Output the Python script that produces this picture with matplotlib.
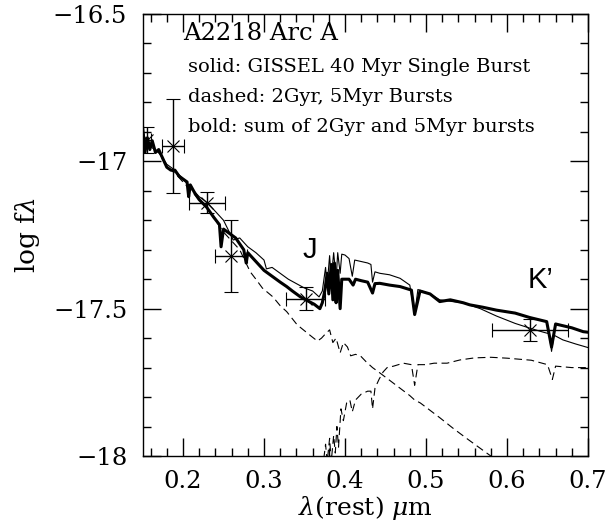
import matplotlib
matplotlib.use("Agg")
import matplotlib.pyplot as plt
from matplotlib.ticker import MultipleLocator

plt.rcParams['font.family'] = ['DejaVu Serif']
plt.rcParams['mathtext.fontset'] = 'dejavuserif'

# ---- data ----
# bold: sum of 2Gyr and 5Myr bursts
sum_wl = [0.150, 0.153, 0.156, 0.159, 0.162, 0.166, 0.170, 0.175, 0.180, 0.185,
          0.190, 0.195, 0.200, 0.205, 0.207, 0.209, 0.215, 0.220, 0.229, 0.238,
          0.245, 0.247, 0.250, 0.260, 0.265, 0.270, 0.275, 0.278, 0.280, 0.290,
          0.300, 0.310, 0.320, 0.328, 0.335, 0.345, 0.355, 0.362, 0.369, 0.372,
          0.375, 0.378, 0.380, 0.383, 0.385, 0.387, 0.389, 0.391, 0.394, 0.396,
          0.400, 0.405, 0.410, 0.413, 0.420, 0.428, 0.434, 0.437, 0.443, 0.455,
          0.468, 0.482, 0.486, 0.4926, 0.505, 0.517, 0.530, 0.546, 0.554, 0.570,
          0.587, 0.610, 0.628, 0.649, 0.655, 0.660, 0.680, 0.694, 0.700]
sum_flux = [-16.88, -16.97, -16.92, -16.96, -16.93, -16.97, -16.96, -16.99, -17.02, -17.03,
            -17.03, -17.05, -17.06, -17.07, -17.12, -17.08, -17.11, -17.13, -17.155, -17.19,
            -17.215, -17.29, -17.23, -17.25, -17.26, -17.28, -17.30, -17.345, -17.31, -17.34,
            -17.37, -17.39, -17.41, -17.425, -17.44, -17.46, -17.475, -17.485, -17.50, -17.48,
            -17.44, -17.38, -17.45, -17.35, -17.47, -17.345, -17.48, -17.37, -17.50, -17.40,
            -17.40, -17.40, -17.42, -17.40, -17.405, -17.41, -17.447, -17.415, -17.414, -17.42,
            -17.425, -17.437, -17.52, -17.44, -17.45, -17.476, -17.47, -17.48, -17.487, -17.495,
            -17.505, -17.515, -17.53, -17.544, -17.63, -17.552, -17.565, -17.578, -17.58]

# solid: GISSEL 40 Myr single burst
gis_wl = [0.150, 0.155, 0.160, 0.170, 0.180, 0.190, 0.200, 0.210, 0.220, 0.230,
          0.240, 0.250, 0.262, 0.270, 0.280, 0.290, 0.300, 0.303, 0.310, 0.320,
          0.330, 0.340, 0.350, 0.360, 0.368, 0.372, 0.376, 0.378, 0.381, 0.383,
          0.386, 0.389, 0.391, 0.394, 0.396, 0.400, 0.405, 0.409, 0.412, 0.420,
          0.428, 0.432, 0.434, 0.437, 0.443, 0.455, 0.468, 0.480, 0.486, 0.490,
          0.505, 0.517, 0.530, 0.545, 0.567, 0.587, 0.610, 0.628, 0.645, 0.652,
          0.655, 0.658, 0.669, 0.685, 0.700]
gis_flux = [-16.90, -16.93, -16.95, -16.97, -17.01, -17.03, -17.06, -17.09, -17.12, -17.14,
            -17.17, -17.20, -17.267, -17.26, -17.29, -17.31, -17.335, -17.365, -17.36, -17.38,
            -17.40, -17.415, -17.43, -17.44, -17.46, -17.44, -17.36, -17.42, -17.32, -17.40,
            -17.31, -17.40, -17.31, -17.38, -17.315, -17.318, -17.33, -17.39, -17.335, -17.34,
            -17.345, -17.35, -17.41, -17.375, -17.38, -17.385, -17.397, -17.42, -17.52, -17.435,
            -17.45, -17.47, -17.475, -17.48, -17.50, -17.525, -17.55, -17.566, -17.58, -17.585,
            -17.645, -17.59, -17.606, -17.62, -17.632]

# dashed: 2 Gyr burst
old_wl = [0.372, 0.376, 0.378, 0.381, 0.383, 0.386, 0.388, 0.390, 0.392, 0.395,
          0.398, 0.402, 0.406, 0.409, 0.413, 0.420, 0.428, 0.432, 0.434, 0.437,
          0.442, 0.447, 0.452, 0.460, 0.472, 0.482, 0.486, 0.490, 0.500, 0.510,
          0.526, 0.542, 0.560, 0.580, 0.600, 0.630, 0.650, 0.656, 0.660, 0.680, 0.700]
old_flux = [-18.05, -17.96, -18.02, -17.94, -18.02, -17.93, -17.99, -17.90, -17.97, -17.84,
            -17.88, -17.82, -17.81, -17.85, -17.81, -17.79, -17.78, -17.78, -17.84, -17.77,
            -17.74, -17.715, -17.70, -17.695, -17.685, -17.69, -17.76, -17.69, -17.69, -17.685,
            -17.685, -17.674, -17.667, -17.665, -17.668, -17.675, -17.69, -17.74, -17.695, -17.70, -17.70]

# dashed: 5 Myr burst
yng_wl = [0.150, 0.155, 0.160, 0.170, 0.180, 0.190, 0.200, 0.210, 0.220, 0.230,
          0.240, 0.250, 0.260, 0.270, 0.283, 0.290, 0.298, 0.311, 0.320, 0.328,
          0.341, 0.350, 0.359, 0.366, 0.371, 0.376, 0.381, 0.385, 0.389, 0.394,
          0.398, 0.403, 0.407, 0.413, 0.419, 0.426, 0.434, 0.443, 0.456, 0.468,
          0.480, 0.486, 0.493, 0.505, 0.517, 0.533, 0.550, 0.568, 0.580, 0.600]
yng_flux = [-16.89, -16.94, -16.95, -16.97, -17.02, -17.04, -17.07, -17.10, -17.13, -17.16,
            -17.20, -17.24, -17.27, -17.30, -17.375, -17.40, -17.43, -17.46, -17.49, -17.51,
            -17.555, -17.575, -17.595, -17.61, -17.60, -17.585, -17.572, -17.615, -17.60, -17.65,
            -17.615, -17.63, -17.66, -17.655, -17.66, -17.68, -17.70, -17.718, -17.745, -17.77,
            -17.795, -17.81, -17.82, -17.845, -17.87, -17.905, -17.94, -17.976, -18.0, -18.05]

# photometric points
pt_wl = [0.156, 0.188, 0.2296, 0.2589, 0.3515, 0.6284]
pt_flux = [-16.928, -16.948, -17.141, -17.320, -17.466, -17.572]
pt_xerr = [0.005, 0.0136, 0.022, 0.020, 0.024, 0.047]
pt_yerr = [0.044, 0.16, 0.036, 0.122, 0.04, 0.038]

fig = plt.figure(figsize=(6.08, 5.27), dpi=100)
ax = fig.add_axes([142.5/608, (527-456)/527, 445.5/608, 442/527])

ax.plot(yng_wl, yng_flux, color='black', lw=0.8, dashes=(7, 4))
ax.plot(old_wl, old_flux, color='black', lw=0.8, dashes=(7, 4))
ax.plot(gis_wl, gis_flux, color='black', lw=0.8)
ax.plot(sum_wl, sum_flux, color='black', lw=2.2)

ax.errorbar(pt_wl, pt_flux, xerr=pt_xerr, yerr=pt_yerr, fmt='x', color='black',
            ms=8, mew=0.8, elinewidth=1.0, capsize=5, capthick=1.0)

ax.set_xlim(0.15, 0.7)
ax.set_ylim(-18, -16.5)
ax.xaxis.set_minor_locator(MultipleLocator(0.02))
ax.yaxis.set_minor_locator(MultipleLocator(0.1))
ax.set_yticks([-18, -17.5, -17, -16.5])
ax.set_yticklabels(['\u221218', '\u221217.5', '\u221217', '\u221216.5'])
ax.set_xticks([0.2, 0.3, 0.4, 0.5, 0.6, 0.7])
ax.set_xticklabels(['0.2', '0.3', '0.4', '0.5', '0.6', '0.7'])
ax.tick_params(which='both', direction='in', top=True, right=True, width=1.0,
               labelsize=17.5)
ax.tick_params(axis='x', pad=10)
ax.tick_params(axis='y', pad=11)
ax.tick_params(which='major', length=13)
ax.tick_params(which='minor', length=6)
for s in ax.spines.values():
    s.set_linewidth(1.0)

ax.set_xlabel(r'$\lambda$(rest) $\mu$m', fontsize=18, labelpad=1)
ax.set_ylabel(r'log f$\lambda$', fontsize=19, labelpad=8)

ax.text(0.2, -16.588, 'A2218 Arc A', fontsize=17.5, va='baseline', ha='left')
ax.text(0.206, -16.697, 'solid: GISSEL 40 Myr Single Burst', fontsize=14, va='baseline', ha='left')
ax.text(0.206, -16.799, 'dashed: 2Gyr, 5Myr Bursts', fontsize=14, va='baseline', ha='left')
ax.text(0.206, -16.900, 'bold: sum of 2Gyr and 5Myr bursts', fontsize=14, va='baseline', ha='left')
ax.text(0.357, -17.30, 'J', fontsize=21, family='Liberation Sans', va='center', ha='center')
ax.text(0.641, -17.403, "K\u2019", fontsize=21, family='Liberation Sans', va='center', ha='center')

fig.savefig('out.png', dpi=100)
